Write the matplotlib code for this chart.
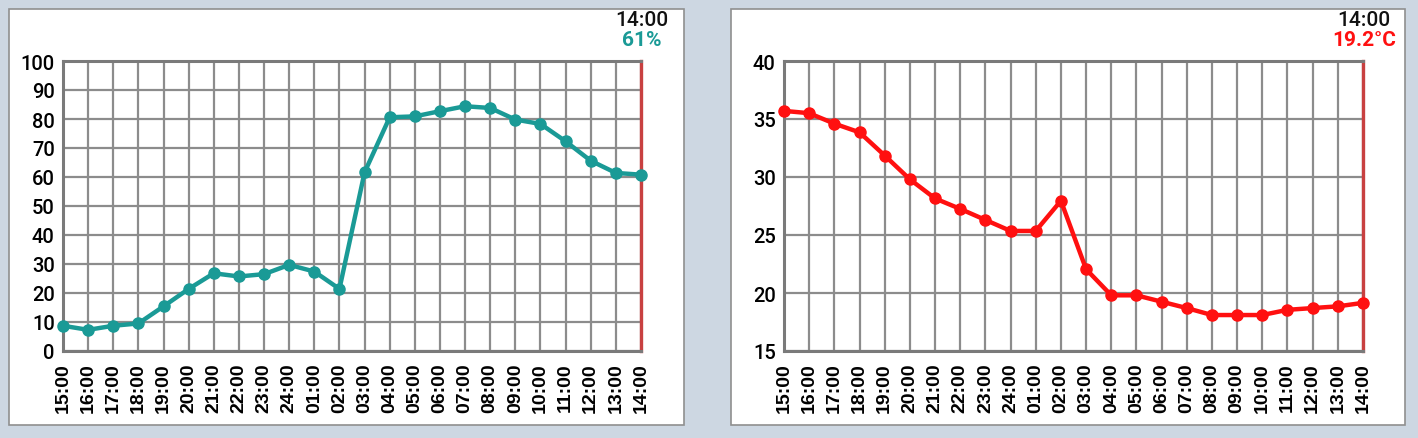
import numpy as np
import matplotlib.pyplot as plt
from matplotlib.patches import Rectangle

# data
horas = ["15:00", "16:00", "17:00", "18:00", "19:00", "20:00", "21:00", "22:00",
         "23:00", "24:00", "01:00", "02:00", "03:00", "04:00", "05:00", "06:00",
         "07:00", "08:00", "09:00", "10:00", "11:00", "12:00", "13:00", "14:00"]
humedad = [8.7, 7.3, 8.7, 9.5, 15.4, 21.4, 26.8, 25.7, 26.5, 29.7, 27.4, 21.4,
           61.6, 80.6, 80.9, 82.7, 84.4, 83.8, 79.8, 78.3, 72.3, 65.6, 61.4, 60.8]
temperatura = [35.7, 35.5, 34.6, 33.85, 31.85, 29.8, 28.15, 27.25, 26.3, 25.35, 25.35, 27.95,
               22.05, 19.8, 19.8, 19.25, 18.7, 18.1, 18.1, 18.1, 18.55, 18.7, 18.85, 19.15]
ticks_hum = [0, 10, 20, 30, 40, 50, 60, 70, 80, 90, 100]
ticks_temp = [15, 20, 25, 30, 35, 40]
hora_actual = "14:00"
texto_hum = "61%"
texto_temp = "19.2°C"

W, H = 1418, 439
FONDO = "#cdd7e2"
GRIS = "#8c8c8c"
TEAL = "#1a9a96"
ROJO = "#ff1010"

fig = plt.figure(figsize=(W / 100, H / 100), dpi=100, facecolor=FONDO)


def caja(x0, y0, x1, y1):
    fig.patches.append(Rectangle((x0 / W, 1 - y1 / H), (x1 - x0) / W, (y1 - y0) / H,
                                 transform=fig.transFigure, facecolor="white",
                                 edgecolor="#8f8f8f", linewidth=1.2, zorder=-5))


def panel(x0, x1, y0, y1, valores, yticks, color, texto):
    ax = fig.add_axes([x0 / W, 1 - y1 / H, (x1 - x0) / W, (y1 - y0) / H])
    ax.patch.set_alpha(0)
    x = np.arange(len(horas))
    ax.plot(x, valores, color=color, lw=3.2, marker="o", ms=8, clip_on=False, zorder=5)
    ax.set_xlim(0, len(horas) - 1)
    ax.set_ylim(yticks[0], yticks[-1])
    ax.set_xticks(x)
    ax.set_xticklabels(horas, rotation=90, fontsize=14, fontweight="bold",
                       family="Liberation Sans")
    ax.set_yticks(yticks)
    ax.set_yticklabels([str(t) for t in yticks], fontsize=14.5, family="Roboto",
                       fontweight="medium")
    ax.tick_params(length=0)
    ax.tick_params(axis="x", pad=8)
    ax.tick_params(axis="y", pad=6)
    ax.grid(True, color=GRIS, lw=1.6)
    ax.set_axisbelow(True)
    for s in ["left", "bottom", "top"]:
        ax.spines[s].set_color("#7a7a7a")
        ax.spines[s].set_linewidth(2.2)
    ax.spines["right"].set_color("#c84040")
    ax.spines["right"].set_linewidth(2.4)
    # etiqueta de la hora actual, centrada sobre la linea roja
    xc = (x1 + 1) / W
    fig.text(xc, 1 - 20 / H, hora_actual, ha="center", va="center", fontsize=15,
             family="Roboto", fontweight="medium", color="#111111")
    fig.text(xc, 1 - 41 / H, texto, ha="center", va="center", fontsize=15,
             family="Roboto", fontweight="bold", color=color)
    return ax


caja(9, 10, 684, 426)
caja(731, 10, 1405, 426)
panel(63, 641, 62, 352, humedad, ticks_hum, TEAL, texto_hum)
panel(784, 1363, 62, 352, temperatura, ticks_temp, ROJO, texto_temp)

fig.savefig("out.png", dpi=100, facecolor=FONDO)
